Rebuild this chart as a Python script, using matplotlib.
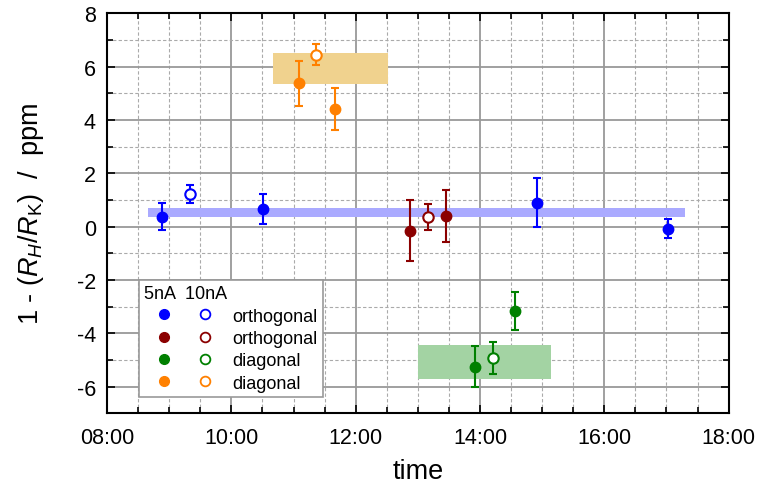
"""
Quantum Hall resistance deviation over the day, with group means as bands
"""

import matplotlib
matplotlib.use('Agg')
import matplotlib.pyplot as plt
from matplotlib.ticker import MultipleLocator, FuncFormatter
from matplotlib.legend_handler import HandlerTuple

plt.rcParams['font.family'] = ['Liberation Sans', 'DejaVu Sans']
plt.rcParams['mathtext.fontset'] = 'custom'
plt.rcParams['mathtext.rm'] = 'Liberation Sans'
plt.rcParams['mathtext.it'] = 'Liberation Sans:italic'
plt.rcParams['axes.unicode_minus'] = False

# measurement series: time of day, value (ppm), error (ppm)
blue_5_t = ['08:53', '10:31', '14:55', '17:01']
blue_5_v = [0.37, 0.67, 0.89, -0.08]
blue_5_e = [0.50, 0.56, 0.92, 0.36]
blue_10_t = ['09:20']
blue_10_v = [1.22]
blue_10_e = [0.35]

red_5_t = ['12:52', '13:27']
red_5_v = [-0.16, 0.40]
red_5_e = [1.14, 0.98]
red_10_t = ['13:10']
red_10_v = [0.36]
red_10_e = [0.50]

green_5_t = ['13:55', '14:34']
green_5_v = [-5.25, -3.18]
green_5_e = [0.77, 0.71]
green_10_t = ['14:13']
green_10_v = [-4.93]
green_10_e = [0.60]

orange_5_t = ['11:05', '11:40']
orange_5_v = [5.37, 4.41]
orange_5_e = [0.84, 0.78]
orange_10_t = ['11:22']
orange_10_v = [6.45]
orange_10_e = [0.39]

# mean bands: start, end, low, high
blue_band = ['08:40', '17:18', 0.34, 0.71]
green_band = ['13:00', '15:09', -5.71, -4.45]
orange_band = ['10:40', '12:31', 5.35, 6.50]

labels = ['orthogonal', 'orthogonal', 'diagonal', 'diagonal']


def hours(times):
    out = []
    for t in times:
        h, m = t.split(':')
        out.append(int(h) + int(m) / 60.0)
    return out


fig = plt.figure(figsize=(7.59, 4.89), dpi=100)
ax = fig.add_axes([0.141, 0.153, 0.819, 0.818])

# bands
for band, col in [(blue_band, '#aaaaff'), (green_band, '#a3d3a3'),
                  (orange_band, '#f0d28e')]:
    x0, x1 = hours(band[:2])
    ax.fill_between([x0, x1], band[2], band[3], color=col, lw=0, zorder=2)

series = [
    ('#0000ff', blue_5_t, blue_5_v, blue_5_e, blue_10_t, blue_10_v, blue_10_e),
    ('#8b0000', red_5_t, red_5_v, red_5_e, red_10_t, red_10_v, red_10_e),
    ('#008000', green_5_t, green_5_v, green_5_e, green_10_t, green_10_v, green_10_e),
    ('#ff8000', orange_5_t, orange_5_v, orange_5_e, orange_10_t, orange_10_v, orange_10_e),
]

handles = []
for col, t5, v5, e5, t10, v10, e10 in series:
    ax.errorbar(hours(t5), v5, yerr=e5, fmt='o', color=col, ms=7.5,
                capsize=3, capthick=1.5, elinewidth=1.5, zorder=4)
    ax.errorbar(hours(t10), v10, yerr=e10, fmt='o', color=col, mfc='white',
                mec=col, mew=1.5, ms=7.5, capsize=3, capthick=1.5,
                elinewidth=1.5, zorder=4)
    h5, = ax.plot([], [], 'o', color=col, ms=7)
    h10, = ax.plot([], [], 'o', mfc='white', mec=col, mew=1.3, ms=7)
    handles.append((h5, h10))

ax.set_xlim(8, 18)
ax.set_ylim(-7, 8)
ax.xaxis.set_major_locator(MultipleLocator(2))
ax.xaxis.set_minor_locator(MultipleLocator(0.5))
ax.yaxis.set_major_locator(MultipleLocator(2))
ax.yaxis.set_minor_locator(MultipleLocator(1))
ax.xaxis.set_major_formatter(FuncFormatter(lambda x, p: '%02d:00' % int(round(x))))
ax.yaxis.set_major_formatter(FuncFormatter(lambda y, p: '%d' % int(round(y))))

ax.grid(which='major', color='#999999', lw=1.3, ls='-', zorder=1)
ax.grid(which='minor', color='#aaaaaa', lw=0.8, ls=(0, (3, 2)), zorder=1)
ax.set_axisbelow(True)

ax.tick_params(which='both', direction='in', top=True, right=True,
               labelsize=15.5, width=1.2)
ax.tick_params(which='major', length=6)
ax.tick_params(axis='x', which='major', pad=10)
ax.tick_params(axis='y', which='major', pad=8)
ax.tick_params(which='minor', length=4)
for s in ax.spines.values():
    s.set_linewidth(1.5)

ax.set_xlabel('time', fontsize=19.5, labelpad=7)
ax.set_ylabel(r'1 - ($R_H/R_\mathrm{K}$)  /  ppm', fontsize=19.5, labelpad=22)

leg = ax.legend(handles, labels, title='5nA  10nA', loc='lower left',
                bbox_to_anchor=(0.0514, 0.04), fontsize=13, title_fontsize=13,
                handler_map={tuple: HandlerTuple(ndivide=None, pad=0.05)},
                handlelength=4.49, handletextpad=0.39, labelspacing=0.3,
                alignment='left', fancybox=False, framealpha=1,
                edgecolor='#999999', borderpad=0.3, borderaxespad=0)
leg.get_frame().set_linewidth(1.2)
leg.set_zorder(5)

plt.savefig('out.png', dpi=100)
